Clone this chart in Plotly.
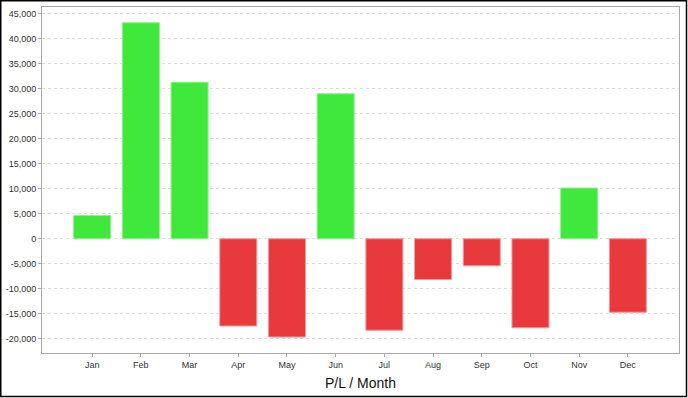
import plotly.graph_objects as go

months = ["Jan", "Feb", "Mar", "Apr", "May", "Jun", "Jul", "Aug", "Sep", "Oct", "Nov", "Dec"]
pl_values = [4650, 43200, 31300, -17450, -19650, 29000, -18300, -8150, -5400, -17800, 10150, -14700]
y_tick_vals = [-20000, -15000, -10000, -5000, 0, 5000, 10000, 15000, 20000, 25000, 30000, 35000, 40000, 45000]
y_tick_text = ["-20,000", "-15,000", "-10,000", "-5,000", "0", "5,000", "10,000", "15,000",
               "20,000", "25,000", "30,000", "35,000", "40,000", "45,000"]

GREEN = "#3fe83a"
RED = "#e8393d"
colors = [GREEN if v >= 0 else RED for v in pl_values]
outlines = ["#8ef08a" if v >= 0 else "#f29a9c" for v in pl_values]

W, H = 688, 398
ML, MR, MT, MB = 42, 9, 7, 45
pw, ph = W - ML - MR, H - MT - MB

fig = go.Figure(go.Bar(
    x=list(range(len(months))), y=pl_values,
    marker=dict(color=colors, line=dict(color=outlines, width=1)),
    width=0.76,
))

fig.update_layout(
    width=W, height=H,
    margin=dict(l=ML, r=MR, t=MT, b=MB, autoexpand=False),
    paper_bgcolor="white", plot_bgcolor="white",
    showlegend=False,
    font=dict(family="Liberation Sans, Arial, sans-serif", color="#333333", size=9),
    xaxis=dict(
        range=[-1.03, 12.05], automargin=False,
        tickvals=list(range(len(months))), ticktext=months,
        showgrid=False, zeroline=False,
        showline=True, linecolor="#aaaaaa", linewidth=1, mirror=True,
        ticks="outside", ticklen=3, tickcolor="#aaaaaa",
        tickfont=dict(size=9, color="#333333"),
        title=dict(text="P/L / Month", font=dict(size=14, color="#111111"), standoff=9),
    ),
    yaxis=dict(
        range=[-22850, 46350], automargin=False,
        tickvals=y_tick_vals, ticktext=y_tick_text,
        showgrid=True, gridcolor="#dddddd", griddash="3px,3px", gridwidth=1,
        zeroline=False,
        showline=True, linecolor="#aaaaaa", linewidth=1, mirror=True,
        ticks="outside", ticklen=3, tickcolor="#aaaaaa",
        tickfont=dict(size=9, color="#333333"),
    ),
    shapes=[dict(
        type="rect", xref="paper", yref="paper",
        x0=(0.75 - ML) / pw, x1=(686.5 - ML) / pw,
        y0=(H - MB - 396.5) / ph, y1=(H - MB - 0.75) / ph,
        line=dict(color="black", width=1.5), fillcolor="rgba(0,0,0,0)", layer="above",
    )],
)

fig.write_html(
    "out.html",
    config={"displayModeBar": False},
    post_script="document.body.style.margin='0px';document.body.style.overflow='hidden';",
)
